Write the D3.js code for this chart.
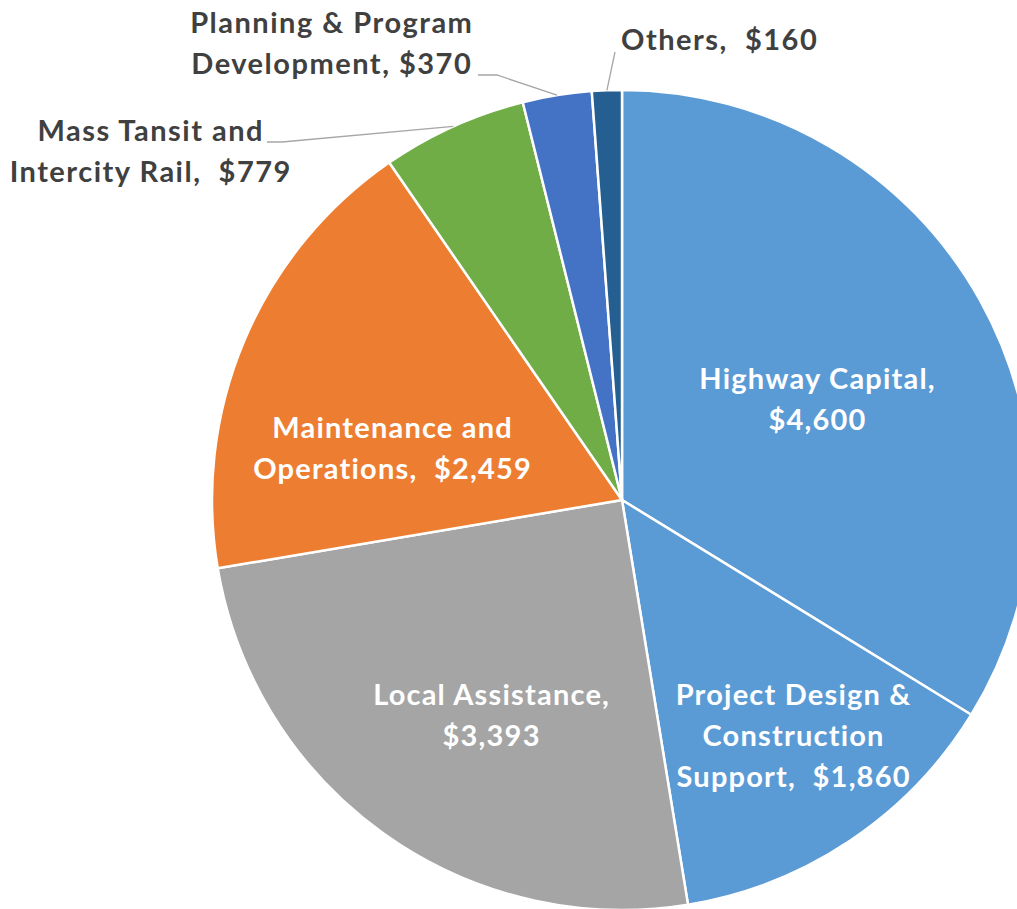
<!DOCTYPE html>
<html>
<head>
<meta charset="utf-8">
<script src="https://cdn.jsdelivr.net/npm/d3@7"></script>
<style>
  html, body { margin: 0; padding: 0; background: #fff; }
  svg { display: block; }
  text { font-family: Lato, "Open Sans", sans-serif; font-weight: 700; font-variant-ligatures: none; font-feature-settings: "liga" 0; }
</style>
</head>
<body>
<svg id="chart" width="1017" height="909"></svg>
<script>
// ---- data ----
const categories = [
  "Highway Capital",
  "Project Design & Construction Support",
  "Local Assistance",
  "Maintenance and Operations",
  "Mass Tansit and Intercity Rail",
  "Planning & Program Development",
  "Others"
];
const values = [4600, 1860, 3393, 2459, 779, 370, 160];
const labelLines = [
  ["Highway Capital,", "$4,600"],
  ["Project Design &", "Construction", "Support,  $1,860"],
  ["Local Assistance,", "$3,393"],
  ["Maintenance and", "Operations,  $2,459"],
  ["Mass Tansit and", "Intercity Rail,  $779"],
  ["Planning & Program", "Development, $370"],
  ["Others,  $160"]
];
const colors = ["#5B9BD5", "#5B9BD5", "#A5A5A5", "#ED7D31", "#70AD47", "#4472C4", "#255E91"];

// ---- layout (not data) ----
const cx = 622, cy = 500, R = 410;
const lineH = 41;
// label anchor offsets (first baseline, text center) relative to pie center
const labelLayout = [
  { dx: 195, dy: -111, inside: true, anchor: "middle" },
  { dx: 171, dy: 205, inside: true, anchor: "middle" },
  { dx: -131, dy: 205, inside: true, anchor: "middle" },
  { dx: -230, dy: -62, inside: true, anchor: "middle" },
  { dx: -472, dy: -359, inside: false, anchor: "middle", elbow: [-340, -358], start: [-355, -358] },
  { dx: -291, dy: -467, inside: false, anchor: "middle", elbow: [-125, -425], start: [-144, -425] },
  { dx: -1, dy: -450, inside: false, anchor: "start", elbow: [-7, -448], start: [-7, -448] }
];

const svg = d3.select("#chart");
const g = svg.append("g").attr("transform", `translate(${cx},${cy})`);

const pie = d3.pie().sort(null).value(d => d);
const arcs = pie(values);
const arc = d3.arc().innerRadius(0).outerRadius(R);
const color = d3.scaleOrdinal().domain(d3.range(values.length)).range(colors);

g.selectAll("path.slice")
  .data(arcs)
  .enter().append("path")
  .attr("class", "slice")
  .attr("d", arc)
  .attr("fill", (d, i) => color(i))
  .attr("stroke", "#fff")
  .attr("stroke-width", 2.5)
  .attr("stroke-linejoin", "round");

// leader lines for outside labels
arcs.forEach((a, i) => {
  const L = labelLayout[i];
  if (L.inside) return;
  const mid = (a.startAngle + a.endAngle) / 2;
  const px = Math.sin(mid) * R, py = -Math.cos(mid) * R;
  g.append("polyline")
    .attr("points", [L.start, L.elbow, [px, py]].map(p => p.join(",")).join(" "))
    .attr("fill", "none")
    .attr("stroke", "#A6A6A6")
    .attr("stroke-width", 1.3);
});

// labels
arcs.forEach((a, i) => {
  const L = labelLayout[i];
  const ls = L.inside ? 1.2 : 1.5;
  const t = g.append("text")
    .attr("text-anchor", L.anchor)
    .attr("font-size", 29)
    .attr("letter-spacing", ls)
    .attr("fill", L.inside ? "#ffffff" : "#404040")
    .attr("font-weight", L.inside ? 600 : 700);
  labelLines[i].forEach((line, j) => {
    t.append("tspan")
      .attr("x", L.anchor === "middle" ? L.dx + ls / 2 : L.dx)
      .attr("y", L.dy + j * lineH)
      .attr("xml:space", "preserve")
      .style("white-space", "pre")
      .text(line);
  });
});
</script>
</body>
</html>
